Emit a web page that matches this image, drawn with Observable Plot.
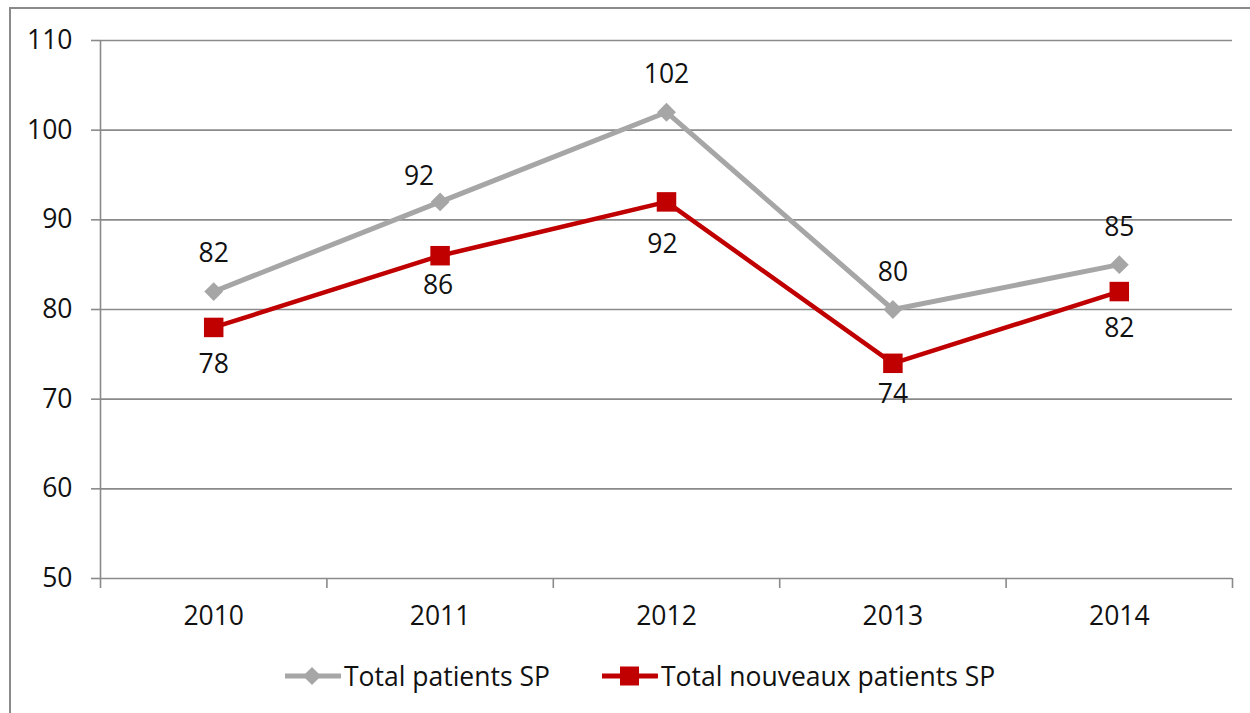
<!DOCTYPE html>
<html>
<head>
<meta charset="utf-8">
<script src="https://cdn.jsdelivr.net/npm/d3@7"></script>
<script src="https://cdn.jsdelivr.net/npm/@observablehq/plot@0.6"></script>
<style>
  html, body { margin: 0; padding: 0; background: #fff; }
  body { width: 1250px; height: 713px; position: relative; overflow: hidden; font-family: "Open Sans", sans-serif; }
  #frame { position: absolute; left: 9px; top: 7px; width: 1300px; height: 800px; border-left: 2px solid #8a8a8a; border-top: 2px solid #8a8a8a; box-sizing: border-box; }
  #chart { position: absolute; left: 0; top: 0; }
  #legend { position: absolute; left: 285px; top: 658px; display: flex; align-items: center; font-size: 26.5px; color: #111; }
  .item { display: flex; align-items: center; margin-right: 52px; }
  .item svg { display: block; margin-right: 3px; }
</style>
</head>
<body>
<div id="frame"></div>
<div id="chart"></div>
<div id="legend"></div>
<script>
const years = [2010, 2011, 2012, 2013, 2014];
const totalPatients = [82, 92, 102, 80, 85];
const newPatients = [78, 86, 92, 74, 82];
const seriesNames = ["Total patients SP", "Total nouveaux patients SP"];
const seriesColors = ["#a6a6a6", "#c00000"];
const yTicks = [50, 60, 70, 80, 90, 100, 110];

// label nudges (pixels) as placed in the original
const grayLabelDy = [-38, -25, -38, -37, -37];
const grayLabelDx = [0, -21, 0, 0, 0];
const redLabelDy = [37, 30, 43, 31, 37];
const redLabelDx = [0, -2, -4, 0, 0];

const gray = years.map((y, i) => ({year: y, value: totalPatients[i]}));
const red = years.map((y, i) => ({year: y, value: newPatients[i]}));
const xDomain = [years[0] - 0.5, years[years.length - 1] + 0.5];
const boundaries = years.map(y => y - 0.5).concat([years[years.length - 1] + 0.5]);
const gridColor = "#8a8a8a";
const FS = 26.5;

const labelMarks = [];
gray.forEach((d, i) => labelMarks.push(Plot.text([d], {x: "year", y: "value", text: d => String(d.value), dy: grayLabelDy[i], dx: grayLabelDx[i], fontSize: FS, fill: "#111"})));
red.forEach((d, i) => labelMarks.push(Plot.text([d], {x: "year", y: "value", text: d => String(d.value), dy: redLabelDy[i], dx: redLabelDx[i], fontSize: FS, fill: "#111"})));

const chart = Plot.plot({
  width: 1250,
  height: 640,
  marginLeft: 100,
  marginRight: 18,
  marginTop: 40,
  marginBottom: 62,
  style: {fontFamily: "Open Sans", fontSize: FS + "px", color: "#111", background: "transparent"},
  x: {domain: xDomain},
  y: {domain: [yTicks[0], yTicks[yTicks.length - 1]]},
  marks: [
    Plot.ruleY(yTicks.slice(1), {stroke: gridColor, strokeWidth: 1.6}),
    Plot.ruleY([yTicks[0]], {stroke: gridColor, strokeWidth: 1.6}),
    Plot.ruleX([xDomain[0]], {y1: yTicks[0], y2: yTicks[yTicks.length - 1], stroke: gridColor, strokeWidth: 1.6}),
    Plot.axisY({ticks: yTicks, tickSize: 9, tickPadding: 19, stroke: gridColor, strokeWidth: 1.6, label: null, fontSize: FS}),
    Plot.axisX({ticks: boundaries, tickSize: 10, tickFormat: () => "", stroke: gridColor, strokeWidth: 1.6, label: null}),
    Plot.axisX({ticks: years, tickSize: 0, tickPadding: 28, tickFormat: d => String(d), label: null, fontSize: FS}),
    Plot.line(gray, {x: "year", y: "value", stroke: seriesColors[0], strokeWidth: 5}),
    Plot.dot(gray, {x: "year", y: "value", symbol: "diamond2", r: 8.5, fill: seriesColors[0]}),
    Plot.line(red, {x: "year", y: "value", stroke: seriesColors[1], strokeWidth: 4.5}),
    Plot.dot(red, {x: "year", y: "value", symbol: "square", r: 11, fill: seriesColors[1]}),
    ...labelMarks
  ]
});
document.getElementById("chart").appendChild(chart);

// legend
const legend = document.getElementById("legend");
const markers = [
  '<path d="M27,-9 L36,0 L27,9 L18,0 Z" fill="' + seriesColors[0] + '"/>',
  '<rect x="18" y="-9.5" width="19" height="19" fill="' + seriesColors[1] + '"/>'
];
seriesNames.forEach((name, i) => {
  const item = document.createElement("div");
  item.className = "item";
  item.innerHTML = '<svg width="56" height="24" viewBox="0 -12 56 24">' +
    '<line x1="0" x2="55" y1="0" y2="0" stroke="' + seriesColors[i] + '" stroke-width="5" stroke-linecap="round"/>' +
    markers[i] + '</svg><span>' + name + '</span>';
  legend.appendChild(item);
});
</script>
</body>
</html>
